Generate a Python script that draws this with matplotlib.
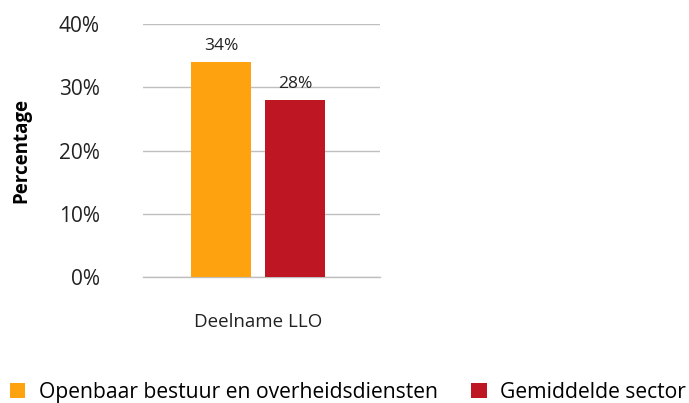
import matplotlib.pyplot as plt
from matplotlib.ticker import PercentFormatter

plt.rcParams['font.family'] = ['Open Sans', 'DejaVu Sans']

categories = ['Deelname LLO']
series = ['Openbaar bestuur en overheidsdiensten', 'Gemiddelde sector']
values = [34, 28]
colors = ['#FFA20F', '#BE1622']

fig = plt.figure(figsize=(6.89, 4.03), dpi=100)
ax = fig.add_axes([0.2075, 0.3127, 0.344, 0.6277])

offsets = [-0.156, 0.156]
width = 0.253
for i, (name, v) in enumerate(zip(series, values)):
    ax.bar(0 + offsets[i], v, width=width, color=colors[i], label=name, zorder=3)
    ax.text(0 + offsets[i], v + 1.3, f'{v}%', ha='center', va='bottom', fontsize=12.5, color='#222222')

ax.set_xlim(-0.485, 0.515)
ax.set_ylim(0, 40)
ax.set_yticks([0, 10, 20, 30, 40])
ax.yaxis.set_major_formatter(PercentFormatter(decimals=0))
ax.tick_params(axis='y', length=0, labelsize=15, pad=31, colors='#222222')
ax.set_xticks([0.0])
ax.set_xticklabels(categories)
ax.tick_params(axis='x', length=0, labelsize=13.5, pad=26, colors='#222222')
ax.grid(axis='y', color='#bfbfbf', linewidth=1, zorder=0)
ax.axhline(0, color='#bfbfbf', linewidth=1, zorder=0, clip_on=False)
for s in ax.spines.values():
    s.set_visible(False)
ax.set_ylabel('Percentage', fontsize=13.5, fontweight='bold', labelpad=20)

fig.legend(loc='lower center', bbox_to_anchor=(0.505, -0.047), ncol=2, frameon=False,
           fontsize=15.2, handlelength=0.72, handleheight=0.72, handletextpad=0.64, columnspacing=1.6)

fig.savefig('out.png', dpi=100)
